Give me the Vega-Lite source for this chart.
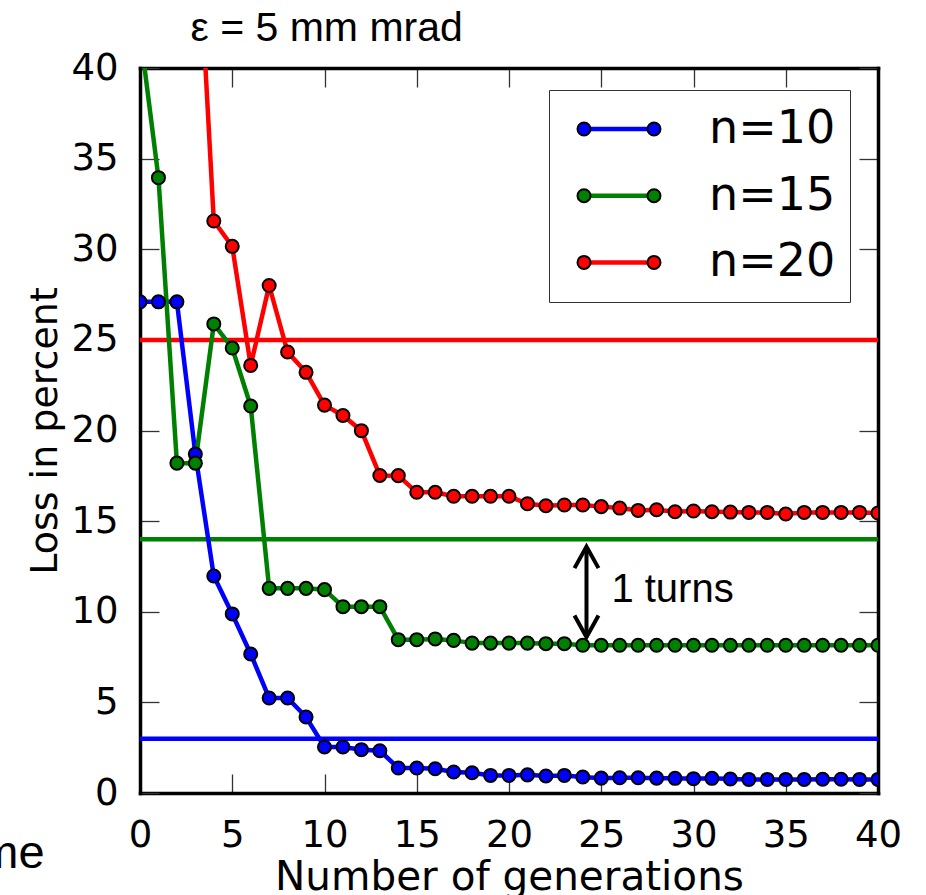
{
  "$schema": "https://vega.github.io/schema/vega-lite/v6.json",
  "width": 738,
  "height": 725,
  "autosize": {"type": "none"},
  "padding": {"left": 140, "top": 68, "right": 48, "bottom": 102},
  "background": "white",
  "config": {
    "view": {"stroke": null},
    "axis": {"grid": false, "domainColor": "black", "domainWidth": 3.5, "domainCap": "square", "tickColor": "#333333", "tickWidth": 1.3, "tickSize": -19, "labelFont": "DejaVu Sans", "labelFontSize": 37, "labelColor": "black", "titleFont": "DejaVu Sans", "titleFontSize": 40.5, "titleFontWeight": "normal", "titleColor": "black", "labelOverlap": false, "labelFlush": false, "labelBound": false, "zindex": 1}
  },
  "resolve": {"axis": {"x": "independent", "y": "independent"}},
  "datasets": {
    "curves": [
      {"n": "n=10", "g": 0, "loss": 27.1}, {"n": "n=10", "g": 1, "loss": 27.1}, {"n": "n=10", "g": 2, "loss": 27.1}, {"n": "n=10", "g": 3, "loss": 18.7}, {"n": "n=10", "g": 4, "loss": 11.97}, {"n": "n=10", "g": 5, "loss": 9.88}, {"n": "n=10", "g": 6, "loss": 7.67}, {"n": "n=10", "g": 7, "loss": 5.24}, {"n": "n=10", "g": 8, "loss": 5.24}, {"n": "n=10", "g": 9, "loss": 4.19}, {"n": "n=10", "g": 10, "loss": 2.54}, {"n": "n=10", "g": 11, "loss": 2.54}, {"n": "n=10", "g": 12, "loss": 2.39}, {"n": "n=10", "g": 13, "loss": 2.33}, {"n": "n=10", "g": 14, "loss": 1.38}, {"n": "n=10", "g": 15, "loss": 1.38}, {"n": "n=10", "g": 16, "loss": 1.34}, {"n": "n=10", "g": 17, "loss": 1.16}, {"n": "n=10", "g": 18, "loss": 1.12}, {"n": "n=10", "g": 19, "loss": 0.97}, {"n": "n=10", "g": 20, "loss": 0.97}, {"n": "n=10", "g": 21, "loss": 1.0}, {"n": "n=10", "g": 22, "loss": 0.94}, {"n": "n=10", "g": 23, "loss": 0.97}, {"n": "n=10", "g": 24, "loss": 0.88}, {"n": "n=10", "g": 25, "loss": 0.82}, {"n": "n=10", "g": 26, "loss": 0.84}, {"n": "n=10", "g": 27, "loss": 0.84}, {"n": "n=10", "g": 28, "loss": 0.82}, {"n": "n=10", "g": 29, "loss": 0.81}, {"n": "n=10", "g": 30, "loss": 0.79}, {"n": "n=10", "g": 31, "loss": 0.81}, {"n": "n=10", "g": 32, "loss": 0.77}, {"n": "n=10", "g": 33, "loss": 0.75}, {"n": "n=10", "g": 34, "loss": 0.75}, {"n": "n=10", "g": 35, "loss": 0.75}, {"n": "n=10", "g": 36, "loss": 0.75}, {"n": "n=10", "g": 37, "loss": 0.76}, {"n": "n=10", "g": 38, "loss": 0.76}, {"n": "n=10", "g": 39, "loss": 0.75}, {"n": "n=10", "g": 40, "loss": 0.75},
      {"n": "n=15", "g": 0, "loss": 42.0}, {"n": "n=15", "g": 1, "loss": 33.95}, {"n": "n=15", "g": 2, "loss": 18.2}, {"n": "n=15", "g": 3, "loss": 18.2}, {"n": "n=15", "g": 4, "loss": 25.88}, {"n": "n=15", "g": 5, "loss": 24.55}, {"n": "n=15", "g": 6, "loss": 21.35}, {"n": "n=15", "g": 7, "loss": 11.29}, {"n": "n=15", "g": 8, "loss": 11.29}, {"n": "n=15", "g": 9, "loss": 11.29}, {"n": "n=15", "g": 10, "loss": 11.22}, {"n": "n=15", "g": 11, "loss": 10.28}, {"n": "n=15", "g": 12, "loss": 10.28}, {"n": "n=15", "g": 13, "loss": 10.28}, {"n": "n=15", "g": 14, "loss": 8.46}, {"n": "n=15", "g": 15, "loss": 8.46}, {"n": "n=15", "g": 16, "loss": 8.5}, {"n": "n=15", "g": 17, "loss": 8.42}, {"n": "n=15", "g": 18, "loss": 8.27}, {"n": "n=15", "g": 19, "loss": 8.27}, {"n": "n=15", "g": 20, "loss": 8.27}, {"n": "n=15", "g": 21, "loss": 8.27}, {"n": "n=15", "g": 22, "loss": 8.24}, {"n": "n=15", "g": 23, "loss": 8.24}, {"n": "n=15", "g": 24, "loss": 8.15}, {"n": "n=15", "g": 25, "loss": 8.15}, {"n": "n=15", "g": 26, "loss": 8.15}, {"n": "n=15", "g": 27, "loss": 8.15}, {"n": "n=15", "g": 28, "loss": 8.15}, {"n": "n=15", "g": 29, "loss": 8.15}, {"n": "n=15", "g": 30, "loss": 8.15}, {"n": "n=15", "g": 31, "loss": 8.15}, {"n": "n=15", "g": 32, "loss": 8.15}, {"n": "n=15", "g": 33, "loss": 8.15}, {"n": "n=15", "g": 34, "loss": 8.15}, {"n": "n=15", "g": 35, "loss": 8.15}, {"n": "n=15", "g": 36, "loss": 8.15}, {"n": "n=15", "g": 37, "loss": 8.15}, {"n": "n=15", "g": 38, "loss": 8.15}, {"n": "n=15", "g": 39, "loss": 8.15}, {"n": "n=15", "g": 40, "loss": 8.15},
      {"n": "n=20", "g": 3, "loss": 50.3}, {"n": "n=20", "g": 4, "loss": 31.56}, {"n": "n=20", "g": 5, "loss": 30.16}, {"n": "n=20", "g": 6, "loss": 23.59}, {"n": "n=20", "g": 7, "loss": 28.0}, {"n": "n=20", "g": 8, "loss": 24.33}, {"n": "n=20", "g": 9, "loss": 23.21}, {"n": "n=20", "g": 10, "loss": 21.4}, {"n": "n=20", "g": 11, "loss": 20.83}, {"n": "n=20", "g": 12, "loss": 19.99}, {"n": "n=20", "g": 13, "loss": 17.52}, {"n": "n=20", "g": 14, "loss": 17.51}, {"n": "n=20", "g": 15, "loss": 16.59}, {"n": "n=20", "g": 16, "loss": 16.59}, {"n": "n=20", "g": 17, "loss": 16.37}, {"n": "n=20", "g": 18, "loss": 16.37}, {"n": "n=20", "g": 19, "loss": 16.37}, {"n": "n=20", "g": 20, "loss": 16.37}, {"n": "n=20", "g": 21, "loss": 15.96}, {"n": "n=20", "g": 22, "loss": 15.85}, {"n": "n=20", "g": 23, "loss": 15.89}, {"n": "n=20", "g": 24, "loss": 15.89}, {"n": "n=20", "g": 25, "loss": 15.8}, {"n": "n=20", "g": 26, "loss": 15.72}, {"n": "n=20", "g": 27, "loss": 15.59}, {"n": "n=20", "g": 28, "loss": 15.63}, {"n": "n=20", "g": 29, "loss": 15.52}, {"n": "n=20", "g": 30, "loss": 15.56}, {"n": "n=20", "g": 31, "loss": 15.52}, {"n": "n=20", "g": 32, "loss": 15.5}, {"n": "n=20", "g": 33, "loss": 15.48}, {"n": "n=20", "g": 34, "loss": 15.48}, {"n": "n=20", "g": 35, "loss": 15.39}, {"n": "n=20", "g": 36, "loss": 15.48}, {"n": "n=20", "g": 37, "loss": 15.48}, {"n": "n=20", "g": 38, "loss": 15.48}, {"n": "n=20", "g": 39, "loss": 15.48}, {"n": "n=20", "g": 40, "loss": 15.45}
    ],
    "thresholds": [
      {"n": "n=10", "loss": 3.0},
      {"n": "n=15", "loss": 14.0},
      {"n": "n=20", "loss": 25.0}
    ],
    "arrow": [{"g": 24.2, "top": 13.45, "bottom": 8.75}],
    "heads": [{"g": 24.2, "loss": 13.6, "dir": "up"}, {"g": 24.2, "loss": 8.6, "dir": "down"}],
    "note": [{"g": 25.55, "loss": 10.52, "label": "1 turns"}],
    "stray": [{"g": -5.17, "loss": -4.12, "label": "me"}]
  },
  "layer": [
    {
      "data": {"name": "thresholds"},
      "mark": {"type": "rule", "strokeWidth": 4.5},
      "encoding": {
        "y": {"field": "loss", "type": "quantitative", "scale": {"domain": [0, 40], "nice": false}, "axis": null},
        "stroke": {"field": "n", "type": "nominal", "scale": {"domain": ["n=10", "n=15", "n=20"], "range": ["#0000ff", "#008000", "#ff0000"]}}
      }
    },
    {
      "data": {"name": "curves"},
      "mark": {"type": "line", "strokeWidth": 4.5, "clip": true},
      "encoding": {
        "x": {"field": "g", "type": "quantitative", "scale": {"domain": [0, 40], "nice": false}, "axis": {"orient": "bottom", "values": [0, 5, 10, 15, 20, 25, 30, 35, 40], "labelPadding": 43, "title": "Number of generations", "titlePadding": 4}},
        "y": {"field": "loss", "type": "quantitative", "scale": {"domain": [0, 40], "nice": false}, "axis": {"orient": "left", "values": [0, 5, 10, 15, 20, 25, 30, 35, 40], "labelPadding": 41, "title": "Loss in percent", "titleFontSize": 38, "titlePadding": 6}},
        "stroke": {"field": "n", "type": "nominal", "scale": {"domain": ["n=10", "n=15", "n=20"], "range": ["#0000ff", "#008000", "#ff0000"]},
          "legend": {"orient": "none", "legendX": 409, "legendY": 22, "title": null, "symbolType": "M -1.45 0 L 1.45 0", "symbolSize": 1600, "symbolStrokeWidth": 4.5, "symbolFillColor": "transparent", "symbolOffset": 33, "labelOffset": 67, "labelFont": "DejaVu Sans", "labelFontSize": 46, "labelColor": "black", "clipHeight": 50, "rowPadding": 16.7, "padding": 14, "strokeColor": "#333333"}}
      }
    },
    {
      "data": {"name": "curves"},
      "mark": {"type": "point", "filled": true, "size": 170, "stroke": "black", "strokeWidth": 2, "opacity": 1, "clip": true},
      "encoding": {
        "x": {"field": "g", "type": "quantitative", "scale": {"domain": [0, 40], "nice": false}, "axis": {"orient": "top", "values": [0, 5, 10, 15, 20, 25, 30, 35, 40], "labels": false, "title": "ε = 5 mm mrad", "titleFont": "Liberation Sans", "titleFontSize": 41, "titleFontWeight": "normal", "titleX": 50, "titleY": -27.3, "titleAlign": "left", "titleBaseline": "alphabetic", "titleAngle": 0}},
        "y": {"field": "loss", "type": "quantitative", "scale": {"domain": [0, 40], "nice": false}, "axis": {"orient": "right", "values": [0, 5, 10, 15, 20, 25, 30, 35, 40], "labels": false, "title": null}},
        "fill": {"field": "n", "type": "nominal", "scale": {"range": ["#0000ff", "#008000", "#ff0000"]},
          "legend": {"orient": "none", "legendX": 409, "legendY": 22, "title": null, "symbolType": "M -2.075 0 A 0.325 0.325 0 1 1 -1.425 0 A 0.325 0.325 0 1 1 -2.075 0 Z M 1.425 0 A 0.325 0.325 0 1 1 2.075 0 A 0.325 0.325 0 1 1 1.425 0 Z", "symbolSize": 1600, "symbolStrokeColor": "black", "symbolStrokeWidth": 2, "symbolOffset": 33, "labelOffset": 67, "labelFont": "DejaVu Sans", "labelFontSize": 46, "labelOpacity": 0, "clipHeight": 50, "rowPadding": 16.7, "padding": 14}}
      }
    },
    {
      "data": {"name": "arrow"},
      "mark": {"type": "rule", "strokeWidth": 4, "color": "black"},
      "encoding": {
        "x": {"field": "g", "type": "quantitative", "axis": null},
        "y": {"field": "top", "type": "quantitative", "axis": null},
        "y2": {"field": "bottom"}
      }
    },
    {
      "data": {"name": "heads"},
      "mark": {"type": "point", "filled": false, "size": 576, "stroke": "black", "strokeWidth": 4, "strokeJoin": "miter", "opacity": 1},
      "encoding": {
        "x": {"field": "g", "type": "quantitative", "axis": null},
        "y": {"field": "loss", "type": "quantitative", "axis": null},
        "shape": {"field": "dir", "type": "nominal", "scale": {"domain": ["up", "down"], "range": ["M -1 1.8 L 0 0 L 1 1.8", "M -1 -1.8 L 0 0 L 1 -1.8"]}, "legend": null}
      }
    },
    {
      "data": {"name": "note"},
      "mark": {"type": "text", "font": "Liberation Sans", "fontSize": 40, "align": "left", "baseline": "alphabetic", "color": "black"},
      "encoding": {
        "x": {"field": "g", "type": "quantitative", "axis": null},
        "y": {"field": "loss", "type": "quantitative", "axis": null},
        "text": {"field": "label"}
      }
    },
    {
      "data": {"name": "stray"},
      "mark": {"type": "text", "font": "Liberation Sans", "fontSize": 47, "align": "right", "baseline": "alphabetic", "color": "black"},
      "encoding": {
        "x": {"field": "g", "type": "quantitative", "axis": null},
        "y": {"field": "loss", "type": "quantitative", "axis": null},
        "text": {"field": "label"}
      }
    }
  ]
}
